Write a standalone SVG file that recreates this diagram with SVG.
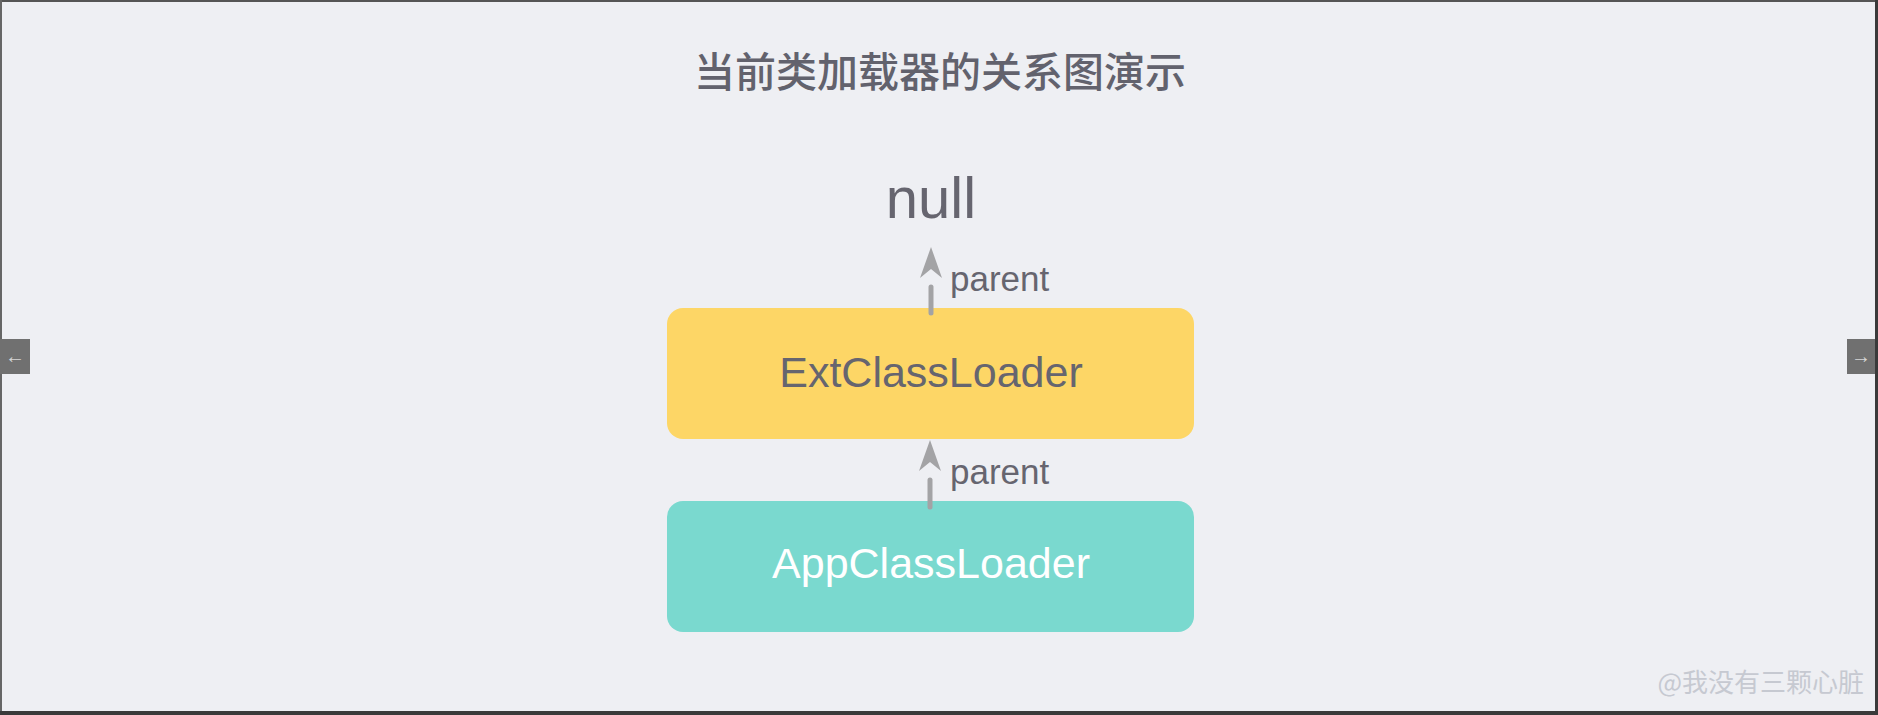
<svg xmlns="http://www.w3.org/2000/svg" width="1878" height="715" viewBox="0 0 1878 715">
<style>
.lbl{font-family:"Liberation Sans","Noto Sans",Arial,sans-serif;}
.cjk{font-family:"Noto Sans CJK SC","Noto Sans",sans-serif;}
.conn{stroke:#a3a3a5;stroke-width:5;stroke-linecap:round;fill:none;}
</style>
<defs>
<marker id="ah" markerUnits="userSpaceOnUse" markerWidth="36" markerHeight="26" viewBox="0 -13 36 26" refX="0" refY="0" orient="auto">
<path d="M0,-11 L31,0 L0,11 L9,0 Z" fill="#a3a3a5"/>
</marker>
</defs>
<rect x="0" y="0" width="1878" height="715" fill="#eeeff3"/>
<rect x="0" y="0" width="1878" height="2" fill="#555"/>
<rect x="0" y="0" width="2" height="715" fill="#666"/>
<rect x="1875" y="0" width="3" height="715" fill="#3a3a3a"/>
<rect x="0" y="711" width="1878" height="4" fill="#3a3a3a"/>
<text class="cjk" x="940" y="87" font-size="41" font-weight="500" fill="#62626d" text-anchor="middle">当前类加载器的关系图演示</text>
<g id="null">
<text class="lbl" x="931" y="218" font-size="58" fill="#66656f" text-anchor="middle">null</text>
</g>
<g id="ext">
<rect x="667" y="308" width="527" height="131" rx="16" fill="#fdd666"/>
<text class="lbl" x="931" y="387" font-size="43" fill="#66656f" text-anchor="middle">ExtClassLoader</text>
</g>
<g id="app">
<rect x="667" y="501" width="527" height="131" rx="16" fill="#7ad9cf"/>
<text class="lbl" x="931" y="578" font-size="43" fill="#ffffff" text-anchor="middle">AppClassLoader</text>
</g>
<g id="connectors">
<path class="conn" d="M931,313 L931,278" stroke-dasharray="26 100" marker-end="url(#ah)"/>
<path class="conn" d="M930,507 L930,471" stroke-dasharray="27 100" marker-end="url(#ah)"/>
<text class="lbl" x="950" y="291" font-size="35" fill="#66656f">parent</text>
<text class="lbl" x="950" y="484" font-size="35" fill="#66656f">parent</text>
</g>
<g id="nav-left">
<rect x="0" y="339" width="30" height="35" fill="#707070"/>
<text class="lbl" x="15" y="363" font-size="20" fill="#d6d6d6" text-anchor="middle">←</text>
</g>
<g id="nav-right">
<rect x="1847" y="339" width="28" height="35" fill="#707070"/>
<text class="lbl" x="1861" y="363" font-size="20" fill="#d6d6d6" text-anchor="middle">→</text>
</g>
<text class="cjk" x="1864" y="692" font-size="26" fill="#c6c9d1" text-anchor="end">@我没有三颗心脏</text>
</svg>
